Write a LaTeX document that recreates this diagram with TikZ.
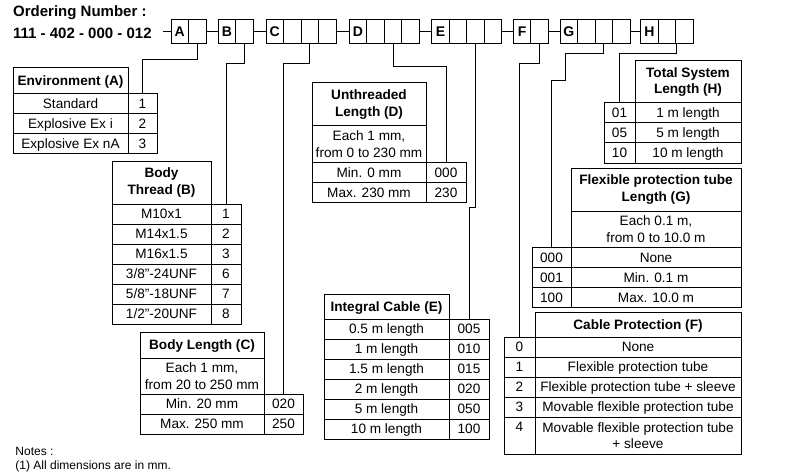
\documentclass[tikz,border=0pt]{standalone}
\usepackage{fontspec}
\setmainfont{Liberation Sans}
\begin{document}
\begin{tikzpicture}[x=1pt,y=-1pt,line width=1pt,
    box/.style n args={4}{minimum width={(#3)-(#1)},minimum height={(#4)-(#2)},
        at={({((#1)+(#3))/2},{((#2)+(#4))/2})}},
    cellm/.style={draw,inner sep=0pt,align=center,font=\fontsize{13.6}{16.5}\selectfont},
    cell/.style={cellm,text height=9.8,text depth=0},
    headm/.style={cellm,font=\fontsize{13.6}{16.5}\selectfont\bfseries},
    head/.style={cell,font=\fontsize{13.6}{16.5}\selectfont\bfseries},
    code/.style={draw,inner sep=0pt,minimum width=17.5,minimum height=24,text height=10,text depth=0,
        font=\fontsize{14}{14}\selectfont\bfseries},
    plain/.style={anchor=base west,inner sep=0pt}]
    \useasboundingbox (0,0) rectangle (787,476);

    % ordering number
    \node[plain,font=\fontsize{15}{15}\selectfont\bfseries] (title) at (12.7,16.5) {Ordering Number :};
    \node[plain,font=\fontsize{15}{15}\selectfont\bfseries] (num) at (12.7,38.3) {111 - 402 - 000 - 012};
    \foreach \g/\x/\n in {A/171/2,B/218.3/2,C/266/4,D/349.3/4,E/431.7/4,F/513.3/2,G/560/4,H/640.7/3} {
        \foreach \i in {1,...,\n} {
            \node[code] (\g\i) at ({\x+17.5*(\i-0.5)},31.3) {\ifnum\i=1 \g\fi};
        }
    }
    \coordinate (lead) at (163,31.3);
    \draw (lead) -- (A1.west);
    \foreach \a/\b in {A2/B1,B2/C1,C4/D1,D4/E1,E4/F1,F2/G1,G4/H1}
        \draw (\a.east) -- (\b.west);

    % Environment (A)
    \node[head,box={13}{68}{128}{94}] (ah) {Environment (A)};
    \foreach \t [count=\i] in {Standard,Explosive Ex i,Explosive Ex nA} {
        \node[cell,box={13}{74+20*\i}{128}{94+20*\i}] (a\i) {\t};
        \node[cell,box={128}{74+20*\i}{157}{94+20*\i}] (an\i) {\i};
    }

    % Body Thread (B)
    \node[headm,box={112}{161}{211}{204}] (bh) {Body\\Thread (B)};
    \foreach \t/\n [count=\i] in {M10x1/1,M14x1.5/2,M16x1.5/3,{3/8”-24UNF}/6,{5/8”-18UNF}/7,{1/2”-20UNF}/8} {
        \node[cell,box={112}{184+20*\i}{211}{204+20*\i}] (b\i) {\t};
        \node[cell,box={211}{184+20*\i}{241}{204+20*\i}] (bn\i) {\n};
    }

    % Body Length (C)
    \node[head,box={140}{332}{264}{358}] (ch) {Body Length (C)};
    \node[cellm,box={140}{358}{264}{394}] (ce) {Each 1 mm,\\from 20 to 250 mm};
    \node[cell,box={140}{394}{264}{414}] (c1) {Min. 20 mm};
    \node[cell,box={264}{394}{303}{414}] (cn1) {020};
    \node[cell,box={140}{414}{264}{434}] (c2) {Max. 250 mm};
    \node[cell,box={264}{414}{303}{434}] (cn2) {250};

    % Unthreaded Length (D)
    \node[headm,box={312}{83}{426}{126}] (dh) {Unthreaded\\Length (D)};
    \node[cellm,box={312}{126}{426}{162.5}] (de) {Each 1 mm,\\from 0 to 230 mm};
    \node[cell,box={312}{162.5}{426}{182.5}] (d1) {Min. 0 mm};
    \node[cell,box={426}{162.5}{466}{182.5}] (dn1) {000};
    \node[cell,box={312}{182.5}{426}{202.5}] (d2) {Max. 230 mm};
    \node[cell,box={426}{182.5}{466}{202.5}] (dn2) {230};

    % Integral Cable (E)
    \node[head,box={324}{294}{449}{319}] (eh) {Integral Cable (E)};
    \foreach \t/\n [count=\i] in {0.5 m length/005,1 m length/010,1.5 m length/015,2 m length/020,5 m length/050,10 m length/100} {
        \node[cell,box={324}{299+20*\i}{449}{319+20*\i}] (e\i) {\t};
        \node[cell,box={449}{299+20*\i}{489}{319+20*\i}] (en\i) {\n};
    }

    % Cable Protection (F)
    \node[head,box={535}{312}{741}{337}] (fh) {Cable Protection (F)};
    \foreach \t [count=\i from 0] in {None,Flexible protection tube,Flexible protection tube + sleeve,Movable flexible protection tube} {
        \node[cell,box={535}{337+20*\i}{741}{357+20*\i}] (f\i) {\t};
        \node[cell,box={504}{337+20*\i}{535}{357+20*\i}] (fn\i) {\i};
    }
    \node[cellm,box={535}{417}{741}{454}] (f4) {Movable flexible protection tube\\+ sleeve};
    \node[cellm,box={504}{417}{535}{454}] (fn4) {4\\~};

    % Flexible protection tube Length (G)
    \node[headm,box={571}{168}{741}{211}] (gh) {Flexible protection tube\\Length (G)};
    \node[cellm,box={571}{211}{741}{247.5}] (ge) {Each 0.1 m,\\from 0 to 10.0 m};
    \foreach \t/\n [count=\i] in {None/000,Min. 0.1 m/001,Max. 10.0 m/100} {
        \node[cell,box={571}{227.5+20*\i}{741}{247.5+20*\i}] (g\i) {\t};
        \node[cell,box={532}{227.5+20*\i}{571}{247.5+20*\i}] (gn\i) {\n};
    }

    % Total System Length (H)
    \node[headm,box={635}{61}{741}{103}] (hh) {Total System\\Length (H)};
    \foreach \t/\n [count=\i] in {1 m length/01,5 m length/05,10 m length/10} {
        \node[cell,box={635}{83+20*\i}{741}{103+20*\i}] (h\i) {\t};
        \node[cell,box={604}{83+20*\i}{635}{103+20*\i}] (hn\i) {\n};
    }

    % connectors
    \draw (A2.south) -- ++(0,16) -| (an1.north);
    \draw (B2.south) -- ++(0,19.5) -| (bn1.north);
    \draw (C3.south) -- ++(0,20) -| (cn1.north);
    \draw (D3.south) -- ++(0,22.5) -| (dn1.north);
    \draw (E3.south) -- ++(0,164) -| (en1.north);
    \draw (F2.south) -- ++(0,20) -| (fn0.north);
    \draw (G3.south) -- ++(0,9.3) -| ++(-38.3,27) -| (gn1.north);
    \draw (H2.south east) -- ++(0,9.3) -| (hn1.north);

    % notes
    \node[plain,font=\fontsize{12}{12}\selectfont] (notes) at (15,455) {Notes :};
    \node[plain,font=\fontsize{12}{12}\selectfont] (note1) at (15,469) {(1) All dimensions are in mm.};
\end{tikzpicture}
\end{document}
